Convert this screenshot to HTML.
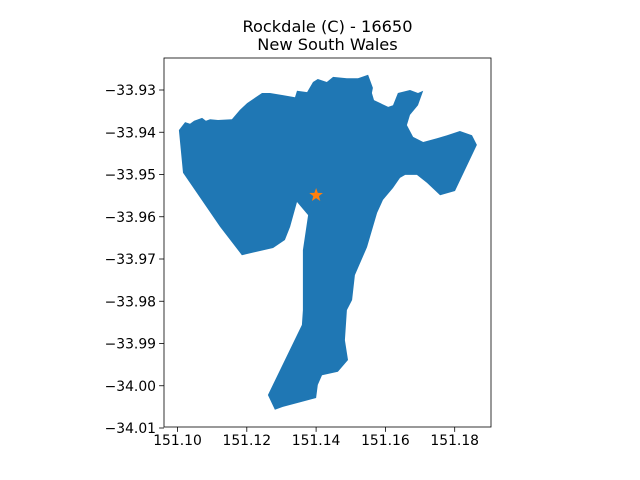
<!DOCTYPE html>
<html><head><meta charset="utf-8"><style>
body{margin:0;background:#fff}
svg{display:block;font-family:"DejaVu Sans","Liberation Sans",sans-serif}
</style></head><body>
<svg id="chart" width="640" height="480">
<rect width="640" height="480" fill="#fff"/>
<text x="327.5" y="32" text-anchor="middle" font-size="16.2">Rockdale (C) - 16650</text>
<text x="327.5" y="50" text-anchor="middle" font-size="16.2">New South Wales</text>
<g id="plot"></g>
</svg>
<script>
const lons=[151.1004,151.1022,151.1036,151.1048,151.1071,151.1082,151.1094,151.1117,151.1157,151.1180,151.1201,151.1244,151.1267,151.1304,151.1339,151.1345,151.1374,151.1391,151.1405,151.1431,151.1449,151.1489,151.1521,151.1550,151.1564,151.1561,151.1567,151.1608,151.1622,151.1636,151.1671,151.1694,151.1709,151.1694,151.1671,151.1662,151.1680,151.1709,151.1749,151.1778,151.1815,151.1850,151.1864,151.1801,151.1758,151.1720,151.1691,151.1657,151.1642,151.1622,151.1593,151.1576,151.1547,151.1512,151.1504,151.1489,151.1483,151.1492,151.1463,151.1417,151.1405,151.1400,151.1354,151.1304,151.1281,151.1261,151.1359,151.1362,151.1362,151.1377,151.1345,151.1325,151.1310,151.1276,151.1186,151.1123,151.1016];
const lats=[-33.9395,-33.9376,-33.9380,-33.9373,-33.9366,-33.9373,-33.9369,-33.9371,-33.9369,-33.9347,-33.9331,-33.9307,-33.9307,-33.9312,-33.9317,-33.9302,-33.9305,-33.9281,-33.9274,-33.9281,-33.9269,-33.9272,-33.9272,-33.9264,-33.9295,-33.9307,-33.9324,-33.9340,-33.9336,-33.9307,-33.9300,-33.9307,-33.9302,-33.9336,-33.9359,-33.9383,-33.9411,-33.9423,-33.9414,-33.9407,-33.9397,-33.9407,-33.9430,-33.9539,-33.9549,-33.9520,-33.9501,-33.9501,-33.9508,-33.9532,-33.9560,-33.9591,-33.9672,-33.9738,-33.9797,-33.9821,-33.9892,-33.9939,-33.9967,-33.9975,-33.9998,-34.0029,-34.0039,-34.0050,-34.0057,-34.0022,-33.9856,-33.9821,-33.9679,-33.9596,-33.9565,-33.9624,-33.9655,-33.9674,-33.9691,-33.9624,-33.9496];
const centroid=[151.1400,-33.9549];
const xTicks=[151.10,151.12,151.14,151.16,151.18];
const yTicks=[-33.93,-33.94,-33.95,-33.96,-33.97,-33.98,-33.99,-34.00,-34.01];
const xTickLabels=["151.10","151.12","151.14","151.16","151.18"];
const yTickLabels=["\u221233.93","\u221233.94","\u221233.95","\u221233.96","\u221233.97","\u221233.98","\u221233.99","\u221234.00","\u221234.01"];

const L=164,R=491,T=58,B=427;
const sx=v=>177.5+(v-151.10)/0.02*69.3;
const sy=v=>90+(-33.93-v)/0.01*42.25;
const NS="http://www.w3.org/2000/svg";
const g=document.getElementById('plot');
function mk(t,a){const e=document.createElementNS(NS,t);for(const k in a)e.setAttribute(k,a[k]);g.appendChild(e);return e;}

const poly=mk('polygon',{points:lons.map((v,i)=>sx(v).toFixed(1)+','+sy(lats[i]).toFixed(1)).join(' '),fill:'#1f77b4'});



const cx=sx(centroid[0]),cy=sy(centroid[1]);
let pts=[];for(let i=0;i<10;i++){const r=i%2?2.9:7.2;const a=-Math.PI/2+i*Math.PI/5;pts.push((cx+r*Math.cos(a)).toFixed(1)+','+(cy+r*Math.sin(a)).toFixed(1));}
const star=mk('polygon',{points:pts.join(' '),fill:'#ff7f0e'});



const frame=mk('rect',{x:L,y:T,width:R-L,height:B-T,fill:'none',stroke:'#000','stroke-width':0.8});



xTicks.forEach((v,i)=>{const x=sx(v);
 const t=mk('line',{x1:x,x2:x,y1:B,y2:B+4.9,stroke:'#000','stroke-width':0.8});
 
 
 const l=mk('text',{x:x,y:B+18,'text-anchor':'middle','font-size':13.9});l.textContent=xTickLabels[i];
 
 
});
yTicks.forEach((v,i)=>{const y=sy(v);
 const t=mk('line',{x1:L-4.9,x2:L,y1:y,y2:y,stroke:'#000','stroke-width':0.8});
 
 
 const l=mk('text',{x:L-8,y:y+5,'text-anchor':'end','font-size':13.9});l.textContent=yTickLabels[i];
 
 
});
</script>
</body></html>
